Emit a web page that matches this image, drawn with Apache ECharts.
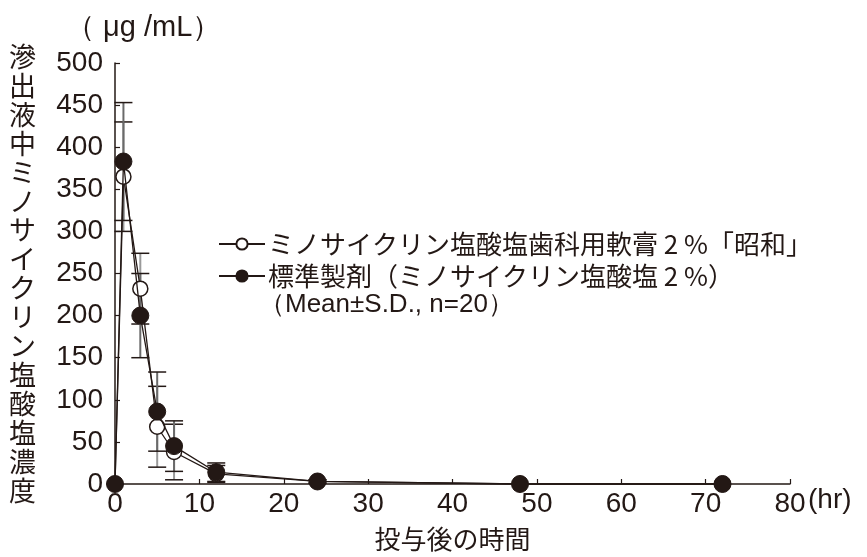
<!DOCTYPE HTML>
<html>
<head>
  <meta charset="utf-8" />
  <title>滲出液中ミノサイクリン塩酸塩濃度</title>
  <style>
    html, body { margin: 0; padding: 0; background: #fff; }
    #main { width: 867px; height: 557px; }
  </style>
</head>
<body>
  <div id="main"></div>
  <script src="https://cdn.jsdelivr.net/npm/echarts@6/dist/echarts.min.js"></script>
  <script type="text/javascript">
    // 投与後の時間 (hr)
    var hours = [0, 1, 3, 5, 7, 12, 24, 48, 72];
    // ミノサイクリン塩酸塩歯科用軟膏2%「昭和」
    var testMean = [0, 365, 232, 68, 38, 12, 3, 0, 0];
    var testSD = [0, 65, 42, 48, 33, 10, 2, 0, 0];
    // 標準製剤
    var refMean = [0, 383, 200, 86, 45, 14, 3, 0, 0];
    var refSD = [0, 70, 50, 47, 30, 11, 2, 0, 0];

    var testName = 'ミノサイクリン塩酸塩歯科用軟膏 2 %「昭和」';
    var refName = '標準製剤（ミノサイクリン塩酸塩 2 %）';

    var numFont = "'Liberation Sans', Arial, sans-serif";
    var jpFont = "'Noto Sans CJK JP', sans-serif";
    var ink = '#231815';

    function pairs(xs, ys) {
      return xs.map(function (x, i) { return [x, ys[i]]; });
    }
    function triples(xs, ys, sd) {
      return xs.map(function (x, i) { return [x, ys[i], sd[i]]; });
    }

    // 誤差棒
    function errorBar(barColor) {
      return function (params, api) {
        var x = api.value(0), m = api.value(1), s = api.value(2);
        if (!s) return;
        var hi = api.coord([x, m + s]);
        var lo = api.coord([x, m - s]);
        var w = 9;
        return {
          type: 'group',
          children: [
            { type: 'line', shape: { x1: hi[0], y1: hi[1], x2: lo[0], y2: lo[1] },
              style: { stroke: barColor, lineWidth: 2 } },
            { type: 'line', shape: { x1: hi[0] - w, y1: hi[1], x2: hi[0] + w, y2: hi[1] },
              style: { stroke: ink, lineWidth: 1.5 } },
            { type: 'line', shape: { x1: lo[0] - w, y1: lo[1], x2: lo[0] + w, y2: lo[1] },
              style: { stroke: ink, lineWidth: 1.5 } }
          ]
        };
      };
    }

    var chart = echarts.init(document.getElementById('main'));
    chart.setOption({
      animation: false,
      backgroundColor: '#fff',
      grid: { left: 115, right: 77, top: 63, bottom: 73 },
      legend: {
        orient: 'vertical',
        left: 213,
        top: 225,
        itemWidth: 46,
        itemHeight: 14,
        itemGap: 4,
        data: [testName, refName],
        textStyle: { fontFamily: jpFont, fontSize: 26, color: ink, lineHeight: 28, padding: [0, 0, 0, -2] }
      },
      xAxis: {
        type: 'value',
        min: 0,
        max: 80,
        interval: 10,
        splitLine: { show: false },
        axisLine: { lineStyle: { color: ink, width: 1.5 } },
        axisTick: { inside: true, length: 5, lineStyle: { color: ink, width: 1.2 } },
        axisLabel: { fontFamily: numFont, fontSize: 28, color: ink, margin: 6 },
        name: '投与後の時間',
        nameLocation: 'middle',
        nameGap: 42,
        nameTextStyle: { fontFamily: jpFont, fontSize: 26, color: ink }
      },
      yAxis: {
        type: 'value',
        min: 0,
        max: 500,
        interval: 50,
        splitLine: { show: false },
        axisLine: { lineStyle: { color: ink, width: 1.5 } },
        axisTick: { inside: true, length: 5, lineStyle: { color: ink, width: 1.2 } },
        axisLabel: { fontFamily: numFont, fontSize: 28, color: ink, margin: 12 },
        name: '滲出液中ミノサイクリン塩酸塩濃度'.split('').join('\n'),
        nameLocation: 'middle',
        nameRotate: 0,
        nameGap: 79,
        nameTextStyle: { fontFamily: jpFont, fontSize: 27, color: ink, lineHeight: 28.9 }
      },
      graphic: [
        { type: 'text', left: 66, top: 13,
          style: { text: '（ μg /mL）', fontFamily: numFont, fontSize: 29, fill: ink } },
        { type: 'text', left: 808, top: 486,
          style: { text: '(hr)', fontFamily: numFont, fontSize: 28, fill: ink } },
        { type: 'text', left: 259, top: 292,
          style: { text: '（Mean±S.D., n=20）', fontFamily: numFont, fontSize: 26, fill: ink } }
      ],
      series: [
        {
          type: 'custom',
          name: 'sd-test',
          renderItem: errorBar('#9a9a9a'),
          data: triples(hours, testMean, testSD),
          z: 1,
          silent: true
        },
        {
          type: 'custom',
          name: 'sd-ref',
          renderItem: errorBar('#6a6a6a'),
          data: triples(hours, refMean, refSD),
          z: 1,
          silent: true
        },
        {
          name: testName,
          type: 'line',
          data: pairs(hours, testMean),
          symbol: 'circle',
          symbolSize: 15,
          clip: false,
          lineStyle: { color: ink, width: 1.3 },
          itemStyle: { color: '#fff', borderColor: ink, borderWidth: 1.5 },
          z: 3
        },
        {
          name: refName,
          type: 'line',
          data: pairs(hours, refMean),
          symbol: 'circle',
          symbolSize: 17,
          clip: false,
          lineStyle: { color: ink, width: 1.3 },
          itemStyle: { color: ink, borderColor: ink, borderWidth: 1 },
          z: 4
        }
      ]
    });
  </script>
</body>
</html>
